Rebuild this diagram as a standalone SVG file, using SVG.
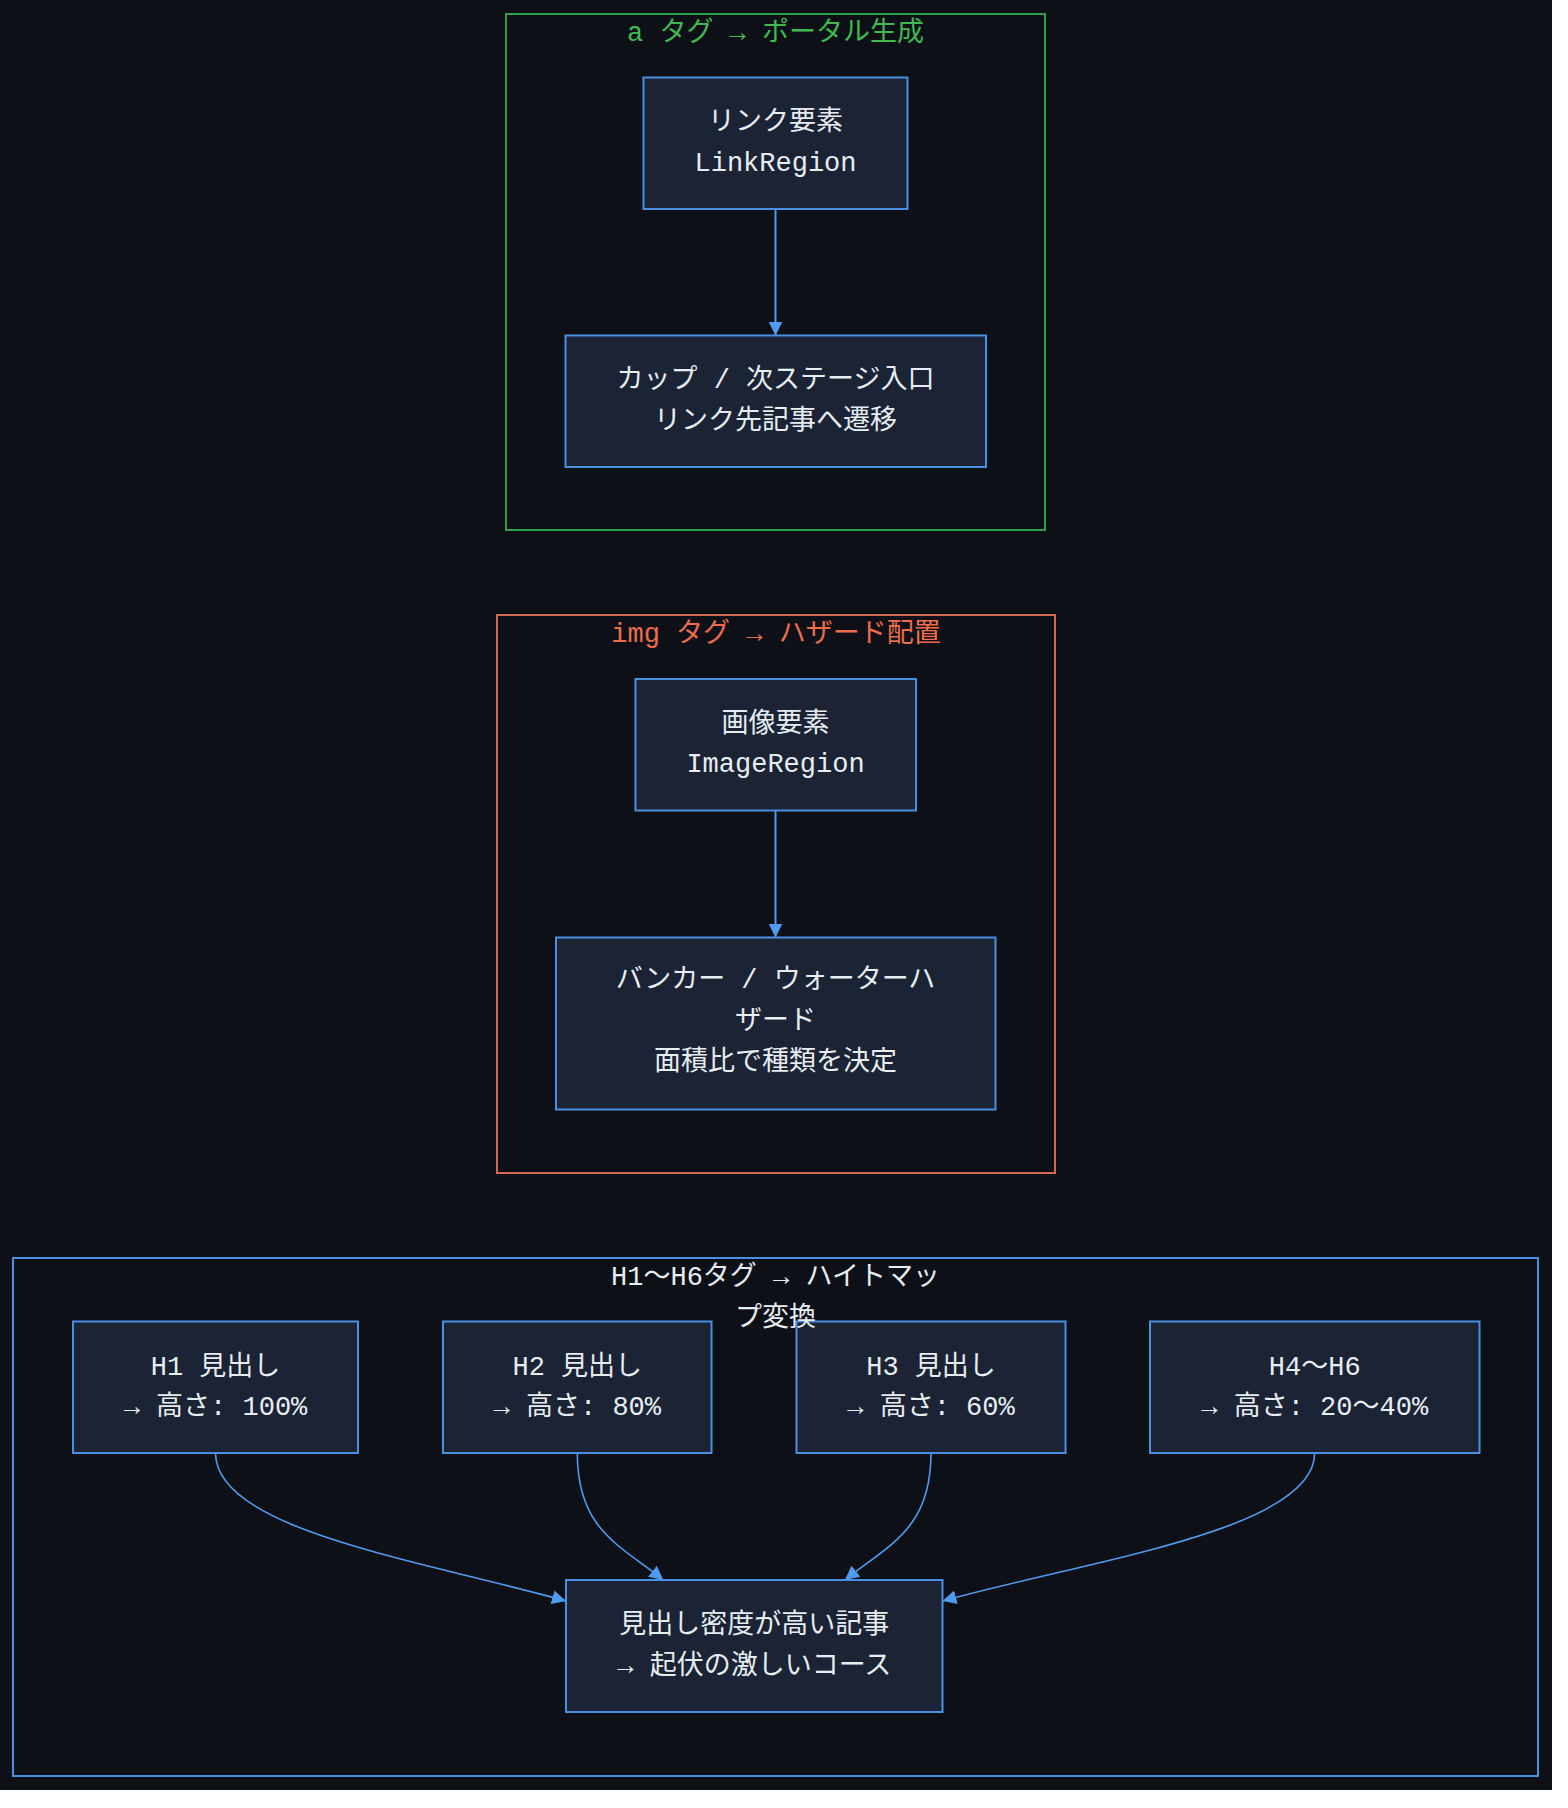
<svg xmlns="http://www.w3.org/2000/svg" width="1568" height="1808" viewBox="0 0 1568 1808">
<style>
  text { font-family: "Liberation Mono", "Noto Sans CJK JP", monospace; font-size: 27px; text-anchor: middle; }
  .node rect { fill: #1b2335; stroke: #4a90e2; stroke-width: 2; }
  .node text { fill: #e6edf3; }
  .cluster rect { fill: none; stroke-width: 2; }
  .edge { fill: none; stroke: #4f9bf0; stroke-width: 2; }
  .curve { stroke-width: 1.6; }
</style>
<defs>
  <marker id="arrow" viewBox="0 0 10 10" refX="10" refY="5" markerUnits="userSpaceOnUse" markerWidth="14" markerHeight="14" orient="auto">
    <path d="M0,0 L10,5 L0,10 z" fill="#4f9bf0"/>
  </marker>
</defs>
<rect x="0" y="0" width="1568" height="1808" fill="#ffffff"/>
<rect x="0" y="0" width="1552" height="1790" fill="#0d1117"/>

<g id="cluster-a" class="cluster">
  <rect x="506" y="14" width="539" height="516" stroke="#2ea043"/>
</g>
<g id="cluster-img" class="cluster">
  <rect x="497" y="615" width="558" height="558" stroke="#d2694f"/>
</g>
<g id="cluster-h" class="cluster">
  <rect x="13" y="1258" width="1525" height="518" stroke="#4a90e2"/>
</g>

<g id="connectors">
  <path class="edge" d="M775.5,209 L775.5,335.5" marker-end="url(#arrow)"/>
  <path class="edge" d="M775.5,810.5 L775.5,937.5" marker-end="url(#arrow)"/>
  <path class="edge curve" d="M215.5,1453 C215.5,1530 420,1560 566,1601" marker-end="url(#arrow)"/>
  <path class="edge curve" d="M577.3,1453 C577.3,1530 620,1545 663.3,1580" marker-end="url(#arrow)"/>
  <path class="edge curve" d="M931,1453 C931,1530 888,1545 845,1580" marker-end="url(#arrow)"/>
  <path class="edge curve" d="M1314.7,1453 C1314.7,1530 1090,1560 942.5,1601" marker-end="url(#arrow)"/>
</g>

<g id="node-link" class="node">
  <rect x="643.5" y="77.5" width="264" height="131.5"/>
  <text x="775.5" y="130">リンク要素</text>
  <text x="775.5" y="170.5">LinkRegion</text>
</g>
<g id="node-cup" class="node">
  <rect x="565.5" y="335.5" width="420.5" height="131.5"/>
  <text x="775.5" y="388">カップ / 次ステージ入口</text>
  <text x="775.5" y="428.5">リンク先記事へ遷移</text>
</g>
<g id="node-image" class="node">
  <rect x="635.5" y="679" width="280.5" height="131.5"/>
  <text x="775.5" y="731.5">画像要素</text>
  <text x="775.5" y="772">ImageRegion</text>
</g>
<g id="node-hazard" class="node">
  <rect x="556" y="937.5" width="439.5" height="172"/>
  <text x="775.5" y="988">バンカー / ウォーターハ</text>
  <text x="775.5" y="1028.5">ザード</text>
  <text x="775.5" y="1069.5">面積比で種類を決定</text>
</g>
<g id="node-h1" class="node">
  <rect x="73" y="1321.5" width="285" height="131.5"/>
  <text x="215.5" y="1374.5">H1 見出し</text>
  <text x="215.5" y="1415">→ 高さ: 100%</text>
</g>
<g id="node-h2" class="node">
  <rect x="443" y="1321.5" width="268.5" height="131.5"/>
  <text x="577.3" y="1374.5">H2 見出し</text>
  <text x="577.3" y="1415">→ 高さ: 80%</text>
</g>
<g id="node-h3" class="node">
  <rect x="796.5" y="1321.5" width="269" height="131.5"/>
  <text x="931" y="1374.5">H3 見出し</text>
  <text x="931" y="1415">→ 高さ: 60%</text>
</g>
<g id="node-h4" class="node">
  <rect x="1150" y="1321.5" width="329.5" height="131.5"/>
  <text x="1314.7" y="1374.5">H4〜H6</text>
  <text x="1314.7" y="1415">→ 高さ: 20〜40%</text>
</g>
<g id="node-course" class="node">
  <rect x="566" y="1580" width="376.5" height="132"/>
  <text x="754.3" y="1633">見出し密度が高い記事</text>
  <text x="754.3" y="1673.5">→ 起伏の激しいコース</text>
</g>

<g id="cluster-labels">
  <text x="775.5" y="41" fill="#3fb950">a タグ → ポータル生成</text>
  <text x="776" y="642" fill="#ec6c4c">img タグ → ハザード配置</text>
  <text x="775.5" y="1285" fill="#e6edf3">H1〜H6タグ → ハイトマッ</text>
  <text x="775.5" y="1325.5" fill="#e6edf3">プ変換</text>
</g>
</svg>
